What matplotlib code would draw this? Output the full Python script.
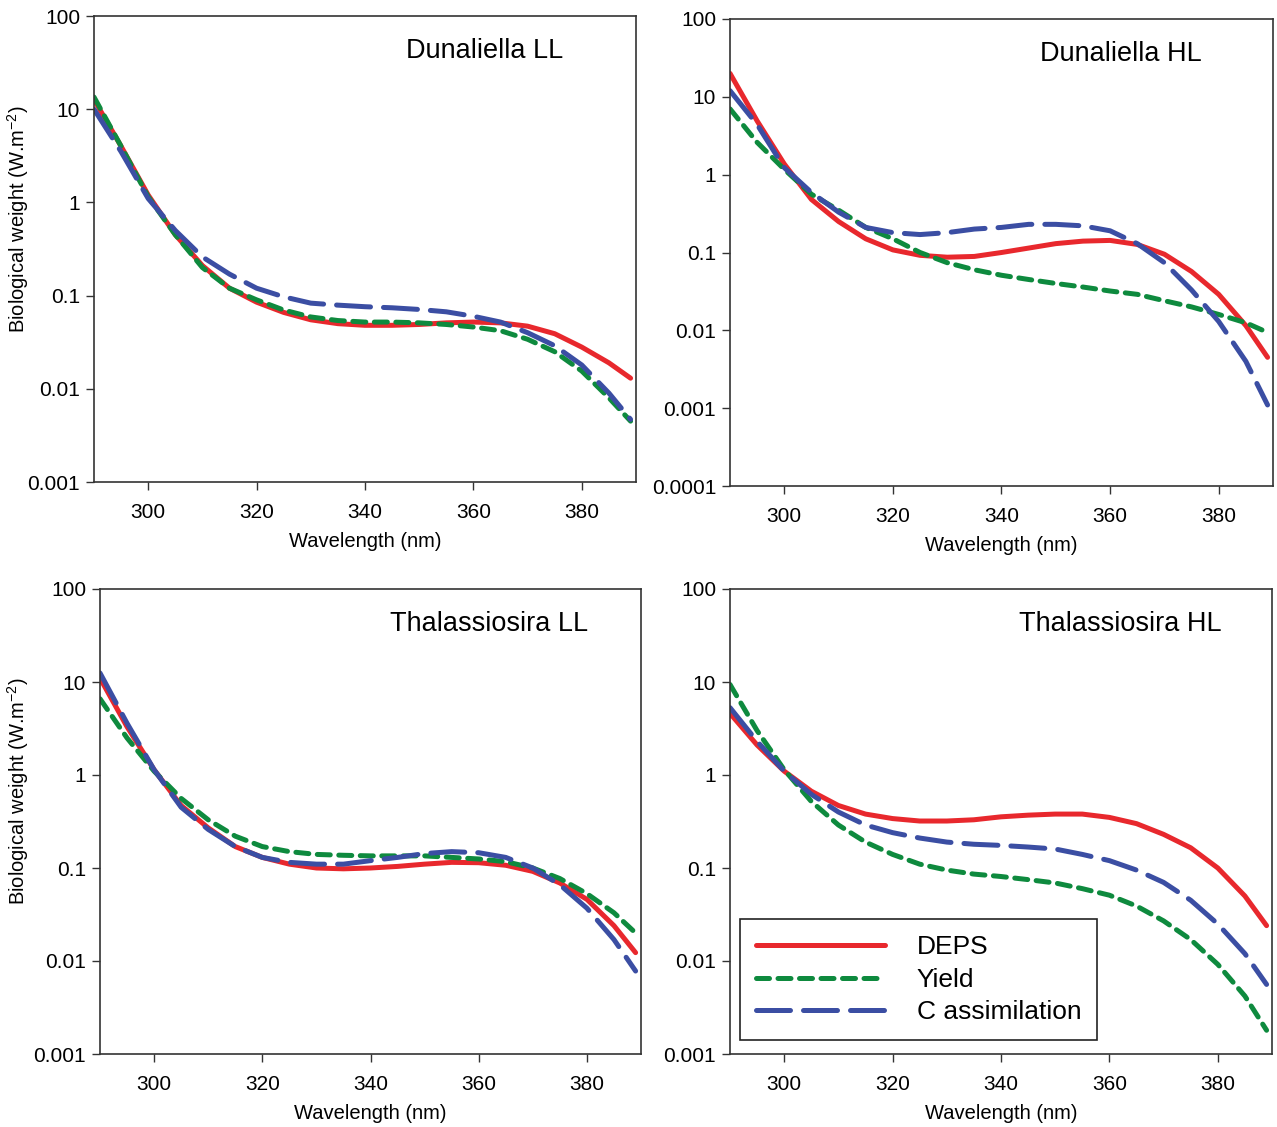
import numpy as np
import matplotlib
matplotlib.use("Agg")
import matplotlib.pyplot as plt

plt.rcParams['font.family'] = ['Liberation Sans', 'DejaVu Sans']
plt.rcParams['mathtext.fontset'] = 'custom'
plt.rcParams['mathtext.rm'] = 'Liberation Sans'

wl = [290, 295, 300, 305, 310, 315, 320, 325, 330, 335, 340,
      345, 350, 355, 360, 365, 370, 375, 380, 385, 389]

# Dunaliella LL
dun_ll_deps = [12.7, 4.0, 1.2, 0.45, 0.21, 0.12, 0.085, 0.066, 0.055, 0.05, 0.048,
               0.048, 0.049, 0.051, 0.052, 0.051, 0.047, 0.039, 0.028, 0.019, 0.013]
dun_ll_yield = [13.5, 4.0, 1.15, 0.45, 0.2, 0.12, 0.09, 0.07, 0.059, 0.054, 0.052,
                0.052, 0.051, 0.049, 0.046, 0.042, 0.034, 0.025, 0.0155, 0.008, 0.0045]
dun_ll_cass = [10.0, 3.5, 1.1, 0.5, 0.26, 0.17, 0.12, 0.097, 0.083, 0.079, 0.076,
               0.074, 0.071, 0.067, 0.06, 0.052, 0.04, 0.029, 0.018, 0.009, 0.0047]

# Dunaliella HL
dun_hl_deps = [20.0, 4.9, 1.37, 0.48, 0.25, 0.15, 0.108, 0.092, 0.087, 0.089, 0.1,
               0.114, 0.13, 0.14, 0.143, 0.127, 0.095, 0.057, 0.029, 0.0115, 0.0045]
dun_hl_yield = [7.0, 2.6, 1.17, 0.56, 0.35, 0.21, 0.15, 0.1, 0.074, 0.06, 0.051,
                0.045, 0.04, 0.036, 0.032, 0.029, 0.024, 0.02, 0.016, 0.0125, 0.0094]
dun_hl_cass = [12.0, 4.4, 1.23, 0.59, 0.33, 0.21, 0.18, 0.17, 0.18, 0.2, 0.21,
               0.23, 0.23, 0.22, 0.19, 0.13, 0.074, 0.033, 0.013, 0.004, 0.0011]

# Thalassiosira LL
tha_ll_deps = [11.0, 3.3, 1.14, 0.47, 0.27, 0.17, 0.13, 0.11, 0.1, 0.098, 0.1,
               0.104, 0.11, 0.115, 0.114, 0.107, 0.092, 0.069, 0.046, 0.024, 0.0123]
tha_ll_yield = [6.6, 2.5, 1.1, 0.56, 0.33, 0.22, 0.17, 0.15, 0.14, 0.137, 0.135,
                0.135, 0.135, 0.13, 0.125, 0.117, 0.1, 0.077, 0.053, 0.033, 0.02]
tha_ll_cass = [12.5, 3.6, 1.14, 0.45, 0.26, 0.17, 0.13, 0.115, 0.11, 0.11, 0.12,
               0.13, 0.143, 0.15, 0.146, 0.13, 0.1, 0.066, 0.037, 0.017, 0.0078]

# Thalassiosira HL
tha_hl_deps = [4.6, 2.1, 1.1, 0.67, 0.47, 0.38, 0.34, 0.32, 0.32, 0.33, 0.355,
               0.37, 0.38, 0.38, 0.35, 0.3, 0.23, 0.165, 0.1, 0.05, 0.024]
tha_hl_yield = [9.4, 3.0, 1.14, 0.52, 0.29, 0.19, 0.14, 0.11, 0.095, 0.086, 0.081,
                0.075, 0.069, 0.06, 0.051, 0.039, 0.027, 0.017, 0.0092, 0.0042, 0.0018]
tha_hl_cass = [5.3, 2.3, 1.1, 0.62, 0.4, 0.29, 0.24, 0.21, 0.19, 0.18, 0.175,
               0.168, 0.16, 0.14, 0.12, 0.095, 0.07, 0.045, 0.025, 0.012, 0.0056]

titles = ["Dunaliella LL", "Dunaliella HL", "Thalassiosira LL", "Thalassiosira HL"]
series = [
    (dun_ll_deps, dun_ll_yield, dun_ll_cass),
    (dun_hl_deps, dun_hl_yield, dun_hl_cass),
    (tha_ll_deps, tha_ll_yield, tha_ll_cass),
    (tha_hl_deps, tha_hl_yield, tha_hl_cass),
]
ymins = [0.001, 0.0001, 0.001, 0.001]

W, H = 1277, 1127
# axes boxes in pixels: left, top, right, bottom
boxes = [(94, 16, 636, 482), (730, 19, 1273, 486),
         (100, 589, 641, 1054), (730, 589, 1272, 1054)]

red = '#e8282d'
green = '#0e8a3e'
blue = '#3b4ea3'

fig = plt.figure(figsize=(W / 100, H / 100), dpi=100)

for i in range(4):
    l, t, r, b = boxes[i]
    ax = fig.add_axes([l / W, 1 - b / H, (r - l) / W, (b - t) / H])
    d, y, c = series[i]
    ax.plot(wl, d, color=red, lw=3.6, solid_capstyle='round', label='DEPS')
    ax.plot(wl, y, color=green, lw=3.6, dashes=(2.6, 1.7), dash_capstyle='round', label='Yield')
    ax.plot(wl, c, color=blue, lw=3.6, dashes=(6.8, 2.6), dash_capstyle='round', label='C assimilation')
    ax.set_yscale('log')
    ax.set_xlim(290, 390)
    ax.set_ylim(ymins[i], 100)
    ticks = [10.0 ** k for k in range(int(round(np.log10(ymins[i]))), 3)]
    labels = [('%g' % v) if v >= 0.001 else '0.0001' for v in ticks]
    ax.set_yticks(ticks)
    ax.set_yticklabels(labels)
    ax.yaxis.set_minor_locator(matplotlib.ticker.NullLocator())
    ax.set_xticks([300, 320, 340, 360, 380])
    ax.tick_params(direction='out', length=6, width=1, labelsize=15, color='#333333')
    ax.tick_params(axis='x', pad=9)
    ax.tick_params(axis='y', pad=4)
    for s in ax.spines.values():
        s.set_color('#333333')
        s.set_linewidth(1.2)
    ax.set_xlabel('Wavelength (nm)', fontsize=14.5, labelpad=7)
    if i in (0, 2):
        fig.text(18 / W, 1 - ((t + b) / 2 - 30) / H, 'Biological weight (W.m$^{-2}$)',
                 rotation=90, ha='center', va='center', fontsize=14.5)
    ax.text(0.72, 0.925, titles[i], transform=ax.transAxes, ha='center', va='center', fontsize=19.5)
    if i == 3:
        leg = ax.legend(loc='lower left', bbox_to_anchor=(0.018, 0.03), borderaxespad=0,
                        fontsize=19, handlelength=4.9, handletextpad=1.2, borderpad=0.6,
                        labelspacing=0.32, fancybox=False, framealpha=1)
        leg.get_frame().set_edgecolor('#222222')
        leg.get_frame().set_linewidth(1.2)

fig.savefig('out.png', dpi=100)
